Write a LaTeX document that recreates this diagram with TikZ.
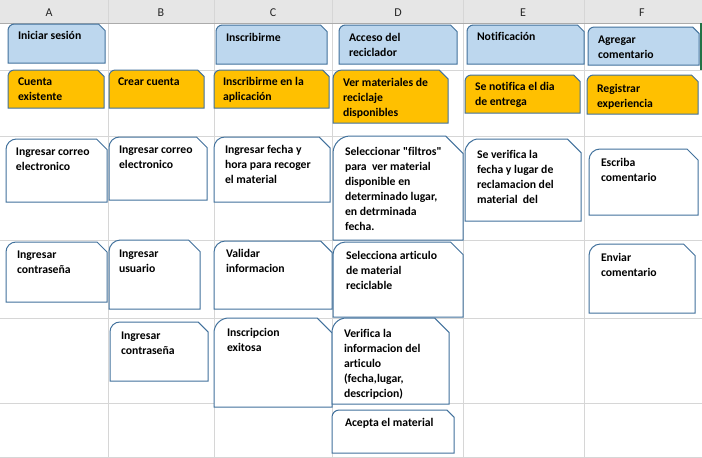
\documentclass[tikz,border=0pt]{standalone}
\usepackage{fontspec}
\setmainfont{Carlito}[Ligatures={TeXOff,NoCommon}]
\definecolor{bord}{HTML}{41719C}
\definecolor{lblue}{HTML}{BDD7EE}
\definecolor{gold}{HTML}{FFC000}
\definecolor{gridc}{HTML}{D6D6D6}
\definecolor{hdr}{HTML}{E6E6E6}
\definecolor{hdrline}{HTML}{ABABAB}
\definecolor{xlgreen}{HTML}{217346}
\tikzset{
  card/.style={draw=bord, line width=1pt, line join=miter},
  bluecard/.style={fill=lblue},
  goldcard/.style={fill=gold},
  whitecard/.style={fill=white},
  txt/.style={anchor=north west, inner sep=0pt, outer sep=0pt, align=left,
    font=\fontsize{11.7}{15}\selectfont\bfseries, text=black},
  colhead/.style={inner sep=0pt, font=\fontsize{12}{14}\selectfont, text=black!85},
  gridline/.style={draw=gridc, line width=1pt},
}
\newcommand{\cardbox}[9]{%
  \pgfmathsetmacro\cardc{0.1667*min(#5-#3,#6-#4)}%
  \draw[card,#2] (#3,-#6) -- (#5,-#6) -- (#5,-#4-\cardc) -- (#5-\cardc,-#4)
    -- (#3+\cardc,-#4) arc[start angle=90,end angle=180,radius=\cardc pt] -- cycle;
  \node[txt] (#1) at (#3+#7,-#4-#8+2.5) {\rule{0pt}{10pt}#9};
}
\begin{document}
\begin{tikzpicture}[x=1pt,y=1pt]
\useasboundingbox (0,0) rectangle (702,-458);
\fill[white] (0,0) rectangle (702,-458);
% header
\fill[hdr] (0,0) rectangle (702,-23);
\foreach \gx in {108,214,332,463,584}{
  \draw[gridline] (\gx,0) -- (\gx,-458);
}
\foreach \gy in {70,136,240,318,403,457}{
  \draw[gridline] (0,-\gy) -- (702,-\gy);
}
\draw[hdrline, line width=1pt] (0,-23) -- (702,-23);
\draw[xlgreen, line width=2pt] (701,-23) -- (701,-70);
\node[colhead] (hA) at (49,-12.5) {A};
\node[colhead] (hB) at (161,-12.5) {B};
\node[colhead] (hC) at (273,-12.5) {C};
\node[colhead] (hD) at (398,-12.5) {D};
\node[colhead] (hE) at (523,-12.5) {E};
\node[colhead] (hF) at (642,-12.5) {F};
% row 1
\cardbox{b1}{bluecard}{8}{24}{105}{63}{10}{8}{Iniciar sesión}
\cardbox{b2}{bluecard}{216}{25}{327}{64}{10}{9}{Inscribirme}
\cardbox{b3}{bluecard}{339}{25}{457}{64}{10}{9}{Acceso del\\reciclador}
\cardbox{b4}{bluecard}{467}{25}{584}{64}{10}{8}{Notificación}
\cardbox{b5}{bluecard}{588}{27}{699}{65}{10}{9}{Agregar\\comentario}
% row 2
\cardbox{o1}{goldcard}{8}{70}{104}{108}{10}{8}{Cuenta\\existente}
\cardbox{o2}{goldcard}{109}{70}{204}{108}{9}{8}{Crear cuenta}
\cardbox{o3}{goldcard}{214}{70}{329}{108}{9}{8}{Inscribirme en la\\aplicación}
\cardbox{o4}{goldcard}{333}{70}{448}{123}{10}{9}{Ver materiales de\\reciclaje\\disponibles}
\cardbox{o5}{goldcard}{465}{75}{580}{113}{10}{8}{Se notifica el dia\\de entrega}
\cardbox{o6}{goldcard}{587}{75}{698}{114}{10}{10}{Registrar\\experiencia}
% row 3
\cardbox{w1}{whitecard}{6}{139}{107}{202}{10}{9}{Ingresar correo\\electronico}
\cardbox{w2}{whitecard}{109}{137}{207}{200}{10}{9}{Ingresar correo\\electronico}
\cardbox{w3}{whitecard}{214}{137}{330}{202}{11}{9}{Ingresar fecha y\\hora para recoger\\el material}
\cardbox{w4}{whitecard}{333}{136}{463}{240}{12}{12}{Seleccionar "filtros"\\para~ ver material\\disponible en\\determinado lugar,\\en detrminada\\fecha.}
\cardbox{w5}{whitecard}{465}{139}{581}{221}{12}{12}{Se verifica la\\fecha y lugar de\\reclamacion del\\material~ del}
\cardbox{w6}{whitecard}{589}{149}{698}{215}{12}{10}{Escriba\\comentario}
% row 4
\cardbox{w7}{whitecard}{6}{242}{107}{302}{11}{9}{Ingresar\\contraseña}
\cardbox{w8}{whitecard}{109}{240}{200}{309}{10}{10}{Ingresar\\usuario}
\cardbox{w9}{whitecard}{214}{241}{332}{309}{12}{9}{Validar\\informacion}
\cardbox{w10}{whitecard}{333}{242}{463}{317}{13}{10}{Selecciona articulo\\de material\\reciclable}
\cardbox{w11}{whitecard}{589}{244}{695}{313}{12}{10}{Enviar\\comentario}
% row 5
\cardbox{w12}{whitecard}{110}{322}{208}{381}{11}{10}{Ingresar\\contraseña}
\cardbox{w13}{whitecard}{214}{318}{332}{407}{13}{11}{Inscripcion\\exitosa}
\cardbox{w14}{whitecard}{332}{318}{449}{404}{12}{12}{Verifica la\\informacion del\\articulo\\(fecha,lugar,\\descripcion)}
\cardbox{w15}{whitecard}{332}{410}{454}{453}{13}{9}{Acepta el material}
\end{tikzpicture}
\end{document}
